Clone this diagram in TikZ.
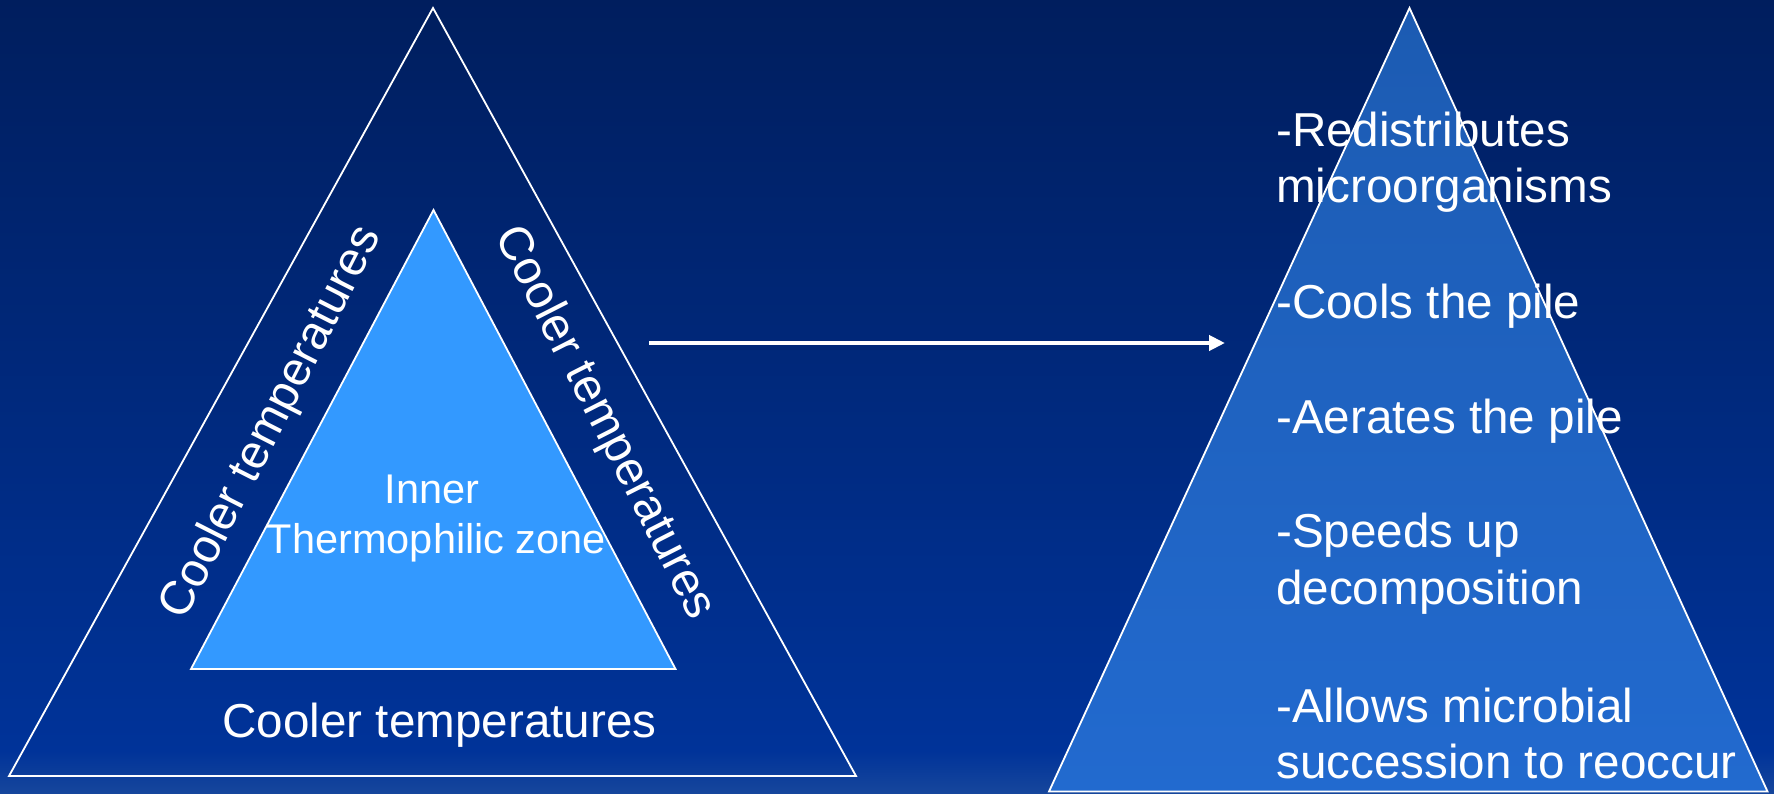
\documentclass[tikz,border=0pt]{standalone}
\usepackage{fontspec}
\setmainfont{Liberation Sans}
\usetikzlibrary{arrows.meta}
\definecolor{bgtop}{RGB}{0,30,94}
\definecolor{bgbot}{RGB}{0,51,153}
\definecolor{bgglow}{RGB}{22,70,156}
\definecolor{innerfill}{RGB}{51,153,255}
\definecolor{righttop}{RGB}{28,91,178}
\definecolor{rightbot}{RGB}{34,106,207}
\tikzset{
  edgeline/.style={draw=white, line width=1.8pt, line join=miter},
  bigtext/.style={text=white, inner sep=0pt, font=\fontsize{47.6}{57.5}\selectfont},
  sidetext/.style={text=white, inner sep=0pt, font=\fontsize{47.6}{57.5}\selectfont},
  innertext/.style={text=white, inner sep=0pt, font=\fontsize{41.5}{50}\selectfont},
  flowarrow/.style={draw=white, line width=4pt, -{Triangle[length=16pt,width=15pt]}}
}
\begin{document}
\begin{tikzpicture}[x=1pt,y=-1pt]
\useasboundingbox (0,0) rectangle (1774,793);
% background
\shade[top color=bgtop, bottom color=bgbot] (0,0) rectangle (1774,752);
\shade[top color=bgbot, bottom color=bgglow] (0,751) rectangle (1774,793);
% outer triangle
\coordinate (oA) at (433,8);
\coordinate (oB) at (9,776);
\coordinate (oC) at (856,776);
\path[edgeline] (oA) -- (oB) -- (oC) -- cycle;
% inner triangle
\coordinate (iA) at (433.5,210);
\coordinate (iB) at (191,669);
\coordinate (iC) at (675.5,669);
\path[edgeline, fill=innerfill] (iA) -- (iB) -- (iC) -- cycle;
% right triangle
\coordinate (rA) at (1409.5,8);
\coordinate (rB) at (1049,791.5);
\coordinate (rC) at (1767.5,791.5);
\path[edgeline, top color=righttop, bottom color=rightbot] (rA) -- (rB) -- (rC) -- cycle;
% arrow
\coordinate (arrowstart) at (649,343);
\coordinate (arrowend) at (1225,343);
\draw[flowarrow] (arrowstart) -- (arrowend);
% left triangle texts
\node[innertext, anchor=base] (inner1) at (432,503) {Inner};
\node[innertext, anchor=base] (inner2) at (436.5,553) {Thermophilic zone};
\node[bigtext, anchor=base] (coolbottom) at (439.5,737) {Cooler temperatures};
\node[sidetext, rotate=63] (coolleft) at (272,423) {Cooler temperatures};
\node[sidetext, rotate=-63] (coolright) at (604,423) {Cooler temperatures};
% right texts
\node[bigtext, anchor=base west] (r1) at (1276,146) {-Redistributes};
\node[bigtext, anchor=base west] (r2) at (1276,202.5) {microorganisms};
\node[bigtext, anchor=base west] (r3) at (1276,318.5) {-Cools the pile};
\node[bigtext, anchor=base west] (r4) at (1276,433.5) {-Aerates the pile};
\node[bigtext, anchor=base west] (r5) at (1276,547.5) {-Speeds up};
\node[bigtext, anchor=base west] (r6) at (1276,604) {decomposition};
\node[bigtext, anchor=base west] (r7) at (1276,722.5) {-Allows microbial};
\node[bigtext, anchor=base west] (r8) at (1276,778) {succession to reoccur};
\end{tikzpicture}
\end{document}
